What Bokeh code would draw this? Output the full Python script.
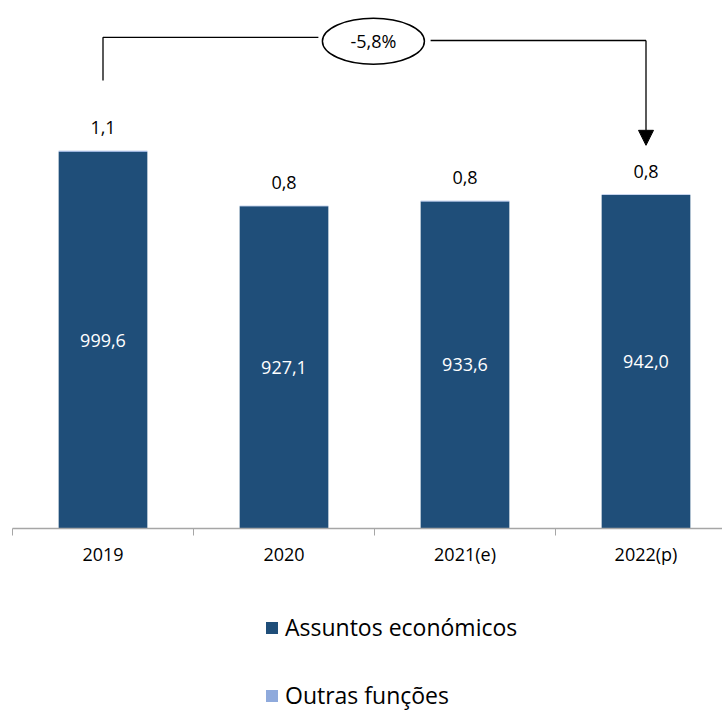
from bokeh.plotting import figure
from bokeh.layouts import column
from bokeh.models import (ColumnDataSource, Range1d, FixedTicker, Legend, LegendItem,
                          Arrow, NormalHead)
from bokeh.core.properties import value
from bokeh.embed import file_html
from bokeh.resources import INLINE

# ---- data ----
years = ["2019", "2020", "2021(e)", "2022(p)"]
assuntos = [999.6, 927.1, 933.6, 942.0]
outras = [1.1, 0.8, 0.8, 0.8]
assuntos_labels = ["999,6", "927,1", "933,6", "942,0"]
outras_labels = ["1,1", "0,8", "0,8", "0,8"]
series_names = ["Assuntos económicos", "Outras funções"]
change_label = "-5,8%"

BASE = 500
DARK = "#1F4E79"
LIGHT = "#8FAADC"
FONT = "Open Sans"

xc = [i + 0.5 for i in range(len(years))]
tops = [a + o for a, o in zip(assuntos, outras)]
src = ColumnDataSource(dict(
    x=xc, a=assuntos, tot=tops, base=[BASE] * len(years),
    mid=[(BASE + a) / 2 for a in assuntos],
    alab=assuntos_labels, olab=outras_labels,
))

p = figure(width=722, height=578, output_backend="svg", toolbar_location=None,
           x_range=Range1d(0, 710 / 181), y_range=Range1d(BASE, 1200),
           y_axis_location=None, min_border_left=12, min_border_right=0,
           min_border_top=0, min_border_bottom=50)
p.outline_line_color = None
p.xgrid.visible = False
p.ygrid.visible = False

p.vbar(x="x", bottom="base", top="a", width=0.49, source=src,
       fill_color=DARK, line_color=None)
p.vbar(x="x", bottom="a", top="tot", width=0.49, source=src,
       fill_color=LIGHT, line_color=None)

p.text(x="x", y="mid", text="alab", source=src, text_color="white",
       text_font=value(FONT), text_font_size="18px",
       text_align="center", text_baseline="middle")
p.text(x="x", y="tot", text="olab", source=src, text_color="black",
       text_font=value(FONT), text_font_size="18px",
       text_align="center", text_baseline="middle", y_offset=-23)

# ---- x axis ----
ax = p.xaxis[0]
ax.ticker = FixedTicker(ticks=xc, minor_ticks=[0, 1, 2, 3, 4])
ax.major_label_overrides = {x: y for x, y in zip(xc, years)}
ax.major_tick_out = 0
ax.major_tick_in = 0
ax.minor_tick_out = 7
ax.minor_tick_in = 0
ax.minor_tick_line_color = "#A6A6A6"
ax.axis_line_color = "#A6A6A6"
ax.axis_line_width = 1.5
ax.major_label_text_font = FONT
ax.major_label_text_font_size = "18px"
ax.major_label_text_color = "black"
ax.major_label_standoff = 6

# ---- change annotation ----
y_left, y_right = 1151, 1147
x_ell, y_ell = 1.994, 1146
p.line(x=[xc[0], xc[0], 1.69], y=[1094, y_left, y_left], line_color="black", line_width=1.3)
p.line(x=[2.31, xc[3]], y=[y_right, y_right], line_color="black", line_width=1.3)
p.add_layout(Arrow(x_start=xc[3], y_start=y_right, x_end=xc[3], y_end=1008,
                   line_color="black", line_width=1.3,
                   end=NormalHead(size=15, fill_color="black", line_color="black")))
p.ellipse(x=[x_ell], y=[y_ell], width=102, height=46, width_units="screen",
          height_units="screen", fill_color="white", line_color="black", line_width=1.5)
p.text(x=[x_ell], y=[y_ell], text=[change_label], text_font=value(FONT),
       text_font_size="18px", text_align="center", text_baseline="middle",
       text_color="black")

# ---- legend (separate strip below) ----
p2 = figure(width=722, height=133, output_backend="svg", toolbar_location=None,
            x_range=Range1d(0, 1), y_range=Range1d(0, 1),
            x_axis_location=None, y_axis_location=None,
            min_border_left=0, min_border_right=0, min_border_top=0, min_border_bottom=0)
p2.outline_line_color = None
p2.xgrid.visible = False
p2.ygrid.visible = False
offscreen = ColumnDataSource(dict(x=[5], top=[5]))
g1 = p2.vbar(x="x", top="top", width=0.1, source=offscreen, fill_color=DARK, line_color=None)
g2 = p2.vbar(x="x", top="top", width=0.1, source=offscreen, fill_color=LIGHT, line_color=None)
legend = Legend(items=[LegendItem(label=series_names[0], renderers=[g1]),
                       LegendItem(label=series_names[1], renderers=[g2])],
                location=(252, 0), orientation="vertical",
                label_text_font=FONT, label_text_font_size="23px",
                label_text_color="black",
                label_height=32, glyph_height=15, glyph_width=15,
                label_standoff=6, spacing=36, padding=0, margin=0,
                border_line_color=None, background_fill_alpha=0)
p2.add_layout(legend, "center")

layout = column(p, p2, spacing=0)
open("out.html", "w").write(file_html(layout, INLINE))
